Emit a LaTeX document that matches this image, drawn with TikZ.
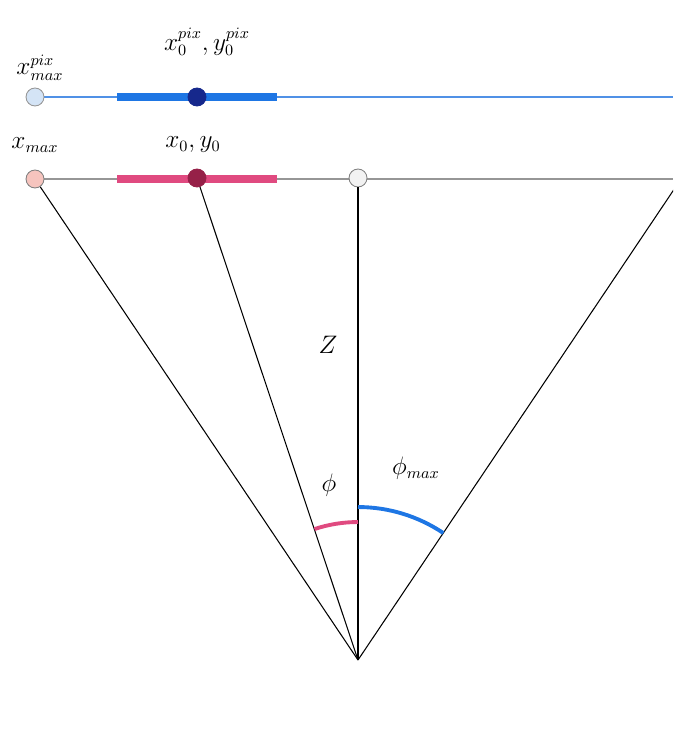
\documentclass[tikz,border=0pt]{standalone}
\usepackage{amsmath, amssymb}
\usepackage{tikz}
\usetikzlibrary{arrows.meta, positioning}
\usepackage{xcolor}
\definecolor{pixblue}{RGB}{30, 118, 228}
\definecolor{pixline}{RGB}{80, 145, 230}
\definecolor{pixdark}{RGB}{22, 40, 140}
\definecolor{pixlight}{RGB}{212, 228, 246}
\definecolor{realpink}{RGB}{224, 74, 128}
\definecolor{realdark}{RGB}{150, 32, 72}
\definecolor{reallight}{RGB}{246, 196, 190}
\definecolor{axisgray}{RGB}{150, 150, 150}
\definecolor{centergray}{RGB}{242, 242, 242}

\tikzset{
    dot/.style={draw, circle, inner sep=0pt, minimum size=0.36cm, line width=0.5pt},
    rayline/.style={draw, black, line width=0.6pt},
    lbl/.style={inner sep=1pt, font=\fontsize{13.5}{16}\selectfont}
}

\begin{document}
\begin{tikzpicture}[x=0.02cm, y=-0.02cm]
    \useasboundingbox (0,0) rectangle (673,743);
    \clip (0,0) rectangle (673,743);

    \coordinate (apex) at (358,660);
    \coordinate (pixend) at (673,97);
    \coordinate (realend) at (673,179);
    \coordinate (rightend) at (681,179);

    % pixel line
    \draw[pixline, line width=1pt] (35,97) -- (pixend);
    \draw[pixblue, line width=4pt] (117,97) -- (277,97);
    % real line
    \draw[axisgray, line width=1pt] (35,179) -- (realend);
    \draw[realpink, line width=4pt] (117,179) -- (277,179);

    \node[dot, fill=pixlight, draw=axisgray] (xmaxpix) at (35,97) {};
    \node[dot, fill=pixdark, draw=pixdark] (x0pix) at (197,97) {};
    \node[dot, fill=reallight, draw=gray] (xmax) at (35,179) {};
    \node[dot, fill=realdark, draw=realdark] (x0) at (197,178) {};
    \node[dot, fill=centergray, draw=gray] (center) at (358,178) {};

    \node[lbl] (lblxmaxpix) at (40,68) {$x_{max}^{pix}$};
    \node[lbl] (lblx0pix) at (207,42) {$x_0^{pix},y_0^{pix}$};
    \node[lbl] (lblxmax) at (35,145) {$x_{max}$};
    \node[lbl] (lblx0) at (193,145) {$x_0,y_0$};

    \draw[rayline] (apex) -- (xmax);
    \draw[rayline] (apex) -- (x0);
    \draw[rayline] (apex) -- (center);
    \draw[rayline] (apex) -- (rightend);

    \draw[realpink, line width=2.2pt] ([shift={(90:2.76cm)}]apex) arc[start angle=90, end angle=108.4, radius=2.76cm];
    \draw[pixblue, line width=2.2pt] ([shift={(90:3.06cm)}]apex) arc[start angle=90, end angle=56.1, radius=3.06cm];

    \node[lbl] (lblz) at (328,345) {$Z$};
    \node[lbl] (lblphi) at (329,485) {$\phi$};
    \node[lbl] (lblphimax) at (416,468) {$\phi_{max}$};
\end{tikzpicture}
\end{document}
